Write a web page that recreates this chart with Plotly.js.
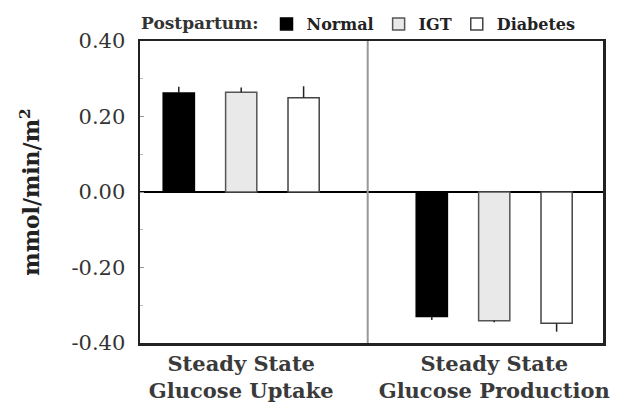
<!DOCTYPE html>
<html>
<head>
<meta charset="utf-8">
<script src="https://cdn.plot.ly/plotly-3.0.1.min.js"></script>
<style>html,body{margin:0;padding:0;background:#fff;}</style>
</head>
<body>
<div id="chart" style="width:631px;height:403px;"></div>
<script>
const categories = ["Steady State<br>Glucose Uptake", "Steady State<br>Glucose Production"];
const seriesNames = ["Normal", "IGT", "Diabetes"];
const normalVals = [0.262, -0.330];
const igtVals = [0.264, -0.341];
const diabetesVals = [0.250, -0.348];
const normalErr = [0.017, 0.009];
const igtErr = [0.013, 0.004];
const diabetesErr = [0.030, 0.022];
const yTickVals = [0.4, 0.2, 0, -0.2, -0.4];
const yTickText = ["0.40", "0.20", "0.00", "-0.20", "-0.40"];

const fills = ["#000000", "#e9e9e9", "#ffffff"];
const outlines = ["#000000", "#555555", "#444444"];
const vals = [normalVals, igtVals, diabetesVals];
const errs = [normalErr, igtErr, diabetesErr];

const serif = "DejaVu Serif, Liberation Serif, serif";

const traces = seriesNames.map((name, i) => ({
  type: "bar",
  name: name,
  x: categories,
  y: vals[i],
  marker: {color: fills[i], line: {color: outlines[i], width: 1.5}},
  error_y: {
    type: "data",
    symmetric: false,
    array: vals[i].map((v, j) => v >= 0 ? errs[i][j] : 0),
    arrayminus: vals[i].map((v, j) => v < 0 ? errs[i][j] : 0),
    color: "#222",
    thickness: 1.5,
    width: 0
  }
}));

const layout = {
  width: 631,
  height: 403,
  margin: {l: 140, r: 28, t: 41, b: 60, autoexpand: false},
  paper_bgcolor: "#fff",
  plot_bgcolor: "#fff",
  font: {family: serif, color: "#222"},
  barmode: "group",
  bargap: 0.26,
  bargroupgap: 0.5,
  showlegend: true,
  legend: {
    orientation: "h",
    x: -0.002, xanchor: "left",
    y: 1.0, yanchor: "bottom",
    title: {text: "<b>Postpartum:</b>", font: {family: serif, size: 17, color: "#333"}},
    font: {family: serif, size: 16, color: "#222", weight: "bold"},
    itemwidth: 30,
    tracegroupgap: 0,
    bgcolor: "rgba(0,0,0,0)"
  },
  xaxis: {
    type: "category",
    range: [-0.4, 1.43],
    showline: true, mirror: true, linecolor: "#222", linewidth: 2.5,
    ticks: "",
    showgrid: false,
    tickfont: {family: serif, size: 21, color: "#3a3a3a", weight: "bold"},
    ticklabelstandoff: 0,
    fixedrange: true
  },
  yaxis: {
    range: [-0.4, 0.4],
    tickvals: yTickVals,
    ticktext: yTickText,
    showline: true, mirror: true, linecolor: "#222", linewidth: 2.5,
    ticks: "inside", ticklen: 4, tickcolor: "#999", tickwidth: 1,
    minor: {dtick: 0.1, ticks: "inside", ticklen: 3, tickcolor: "#bbb"},
    showgrid: false,
    zeroline: true, zerolinecolor: "#000", zerolinewidth: 2,
    tickfont: {family: serif, size: 21, color: "#333"},
    ticklabelstandoff: 8,
    title: {text: "<b>mmol/min/m<sup>2</sup></b>", font: {family: serif, size: 22, color: "#222"}, standoff: 26},
    fixedrange: true
  },
  shapes: [{
    type: "line", xref: "x", yref: "paper",
    x0: 0.5, x1: 0.5, y0: 0, y1: 1,
    line: {color: "#999", width: 2}
  }]
};

Plotly.newPlot("chart", traces, layout, {displayModeBar: false, staticPlot: true});
</script>
</body>
</html>
